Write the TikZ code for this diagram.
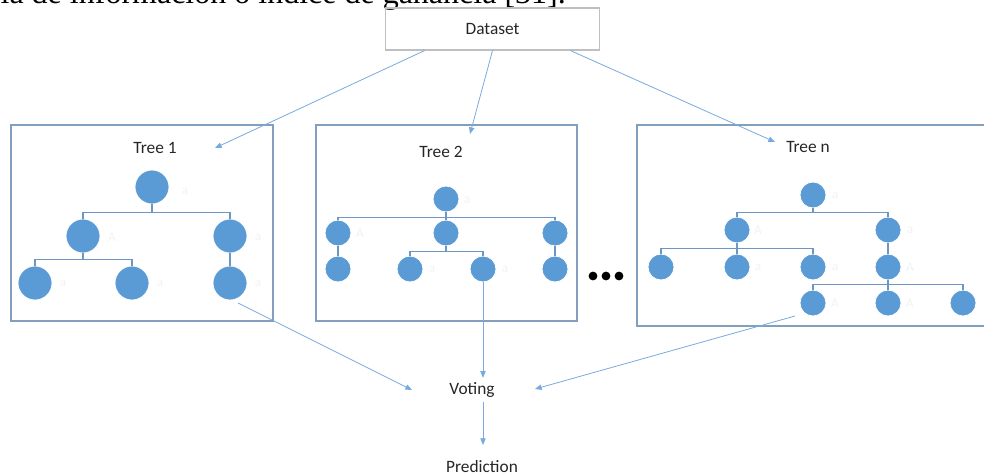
\documentclass[tikz,border=0pt]{standalone}
\usepackage{fontspec}
\setmainfont{Carlito}
\newfontfamily\serifdoc{Liberation Serif}
\usetikzlibrary{arrows.meta}
\definecolor{nodeblue}{RGB}{91,155,213}
\definecolor{boxblue}{RGB}{130,160,190}
\definecolor{arrblue}{RGB}{120,170,220}
\definecolor{edgeblue}{RGB}{110,150,195}
\tikzset{
  px/.style={x=0.75pt,y=-0.75pt},
  bignode/.style={circle,fill=nodeblue,draw=white,line width=0.6pt,minimum size=25.5pt,inner sep=0pt},
  smallnode/.style={circle,fill=nodeblue,draw=white,line width=0.6pt,minimum size=19.5pt,inner sep=0pt},
  treebox/.style={draw=boxblue,line width=1pt},
  lbl/.style={font=\fontsize{13}{15}\selectfont,text=black!85},
  faint/.style={font=\fontsize{10}{12}\selectfont,text=black!5},
  edge/.style={draw=edgeblue,line width=1pt},
  arr/.style={draw=arrblue,line width=0.6pt,-{Triangle[length=5pt,width=4pt]}},
}
\begin{document}
\begin{tikzpicture}[px]
\useasboundingbox (0,0) rectangle (984,475);
\clip (0,0) rectangle (984,475);
% cut-off document text
\node[anchor=base east,inner sep=0pt,font=\serifdoc\fontsize{24}{28}\selectfont] (doc) at (566,3) {ia de información o índice de ganancia [31].};
% Dataset
\node[draw=black!25,line width=0.8pt,minimum width=161pt,minimum height=31.5pt,lbl] (ds) at (492.5,29) {Dataset};
% boxes
\node[treebox,minimum width=196.5pt,minimum height=147pt,inner sep=0pt] (b1) at (142,223) {};
\node[treebox,minimum width=195.75pt,minimum height=147pt,inner sep=0pt] (b2) at (446.5,223) {};
\node[treebox,minimum width=270pt,minimum height=150.75pt,inner sep=0pt] (bn) at (817,225.5) {};
\node[lbl] (t1) at (155,148) {Tree 1};
\node[lbl] (t2) at (441,152) {Tree 2};
\node[lbl] (tn) at (808,147) {Tree n};
% Tree 1
\node[bignode] (a0) at (152,187) {};
\node[bignode] (a1) at (83,236) {};
\node[bignode] (a2) at (230,236) {};
\node[bignode] (a3) at (35,283) {};
\node[bignode] (a4) at (132,283) {};
\node[bignode] (a5) at (230,283) {};
\draw[edge] (a0.south) -- ++(0,8) -| (a1.north);
\draw[edge] (a0.south) -- ++(0,8) -| (a2.north);
\draw[edge] (a1.south) -- ++(0,6) -| (a3.north);
\draw[edge] (a1.south) -- ++(0,6) -| (a4.north);
\draw[edge] (a2.south) -- (a5.north);
\node[faint] (fa0) at (185,191) {a};
\node[faint] (fa1) at (112,237) {A};
\node[faint] (fa2) at (258,237) {a};
\node[faint] (fa3) at (63,283) {a};
\node[faint] (fa4) at (160,283) {a};
\node[faint] (fa5) at (258,283) {a};
% Tree 2
\node[smallnode] (c0) at (446,199) {};
\node[smallnode] (c1) at (338,233) {};
\node[smallnode] (c2) at (446,233) {};
\node[smallnode] (c3) at (555,233) {};
\node[smallnode] (c4) at (338,269) {};
\node[smallnode] (c5) at (410,269) {};
\node[smallnode] (c6) at (483,269) {};
\node[smallnode] (c7) at (555,269) {};
\draw[edge] (c0.south) -- (c2.north);
\draw[edge] (c0.south) -- ++(0,5) -| (c1.north);
\draw[edge] (c0.south) -- ++(0,5) -| (c3.north);
\draw[edge] (c1.south) -- (c4.north);
\draw[edge] (c3.south) -- (c7.north);
\draw[edge] (c2.south) -- ++(0,5) -| (c5.north);
\draw[edge] (c2.south) -- ++(0,5) -| (c6.north);
\node[faint] (fc0) at (467,200) {a};
\node[faint] (fc1) at (360,233) {A};
\node[faint] (fc5) at (432,269) {a};
\node[faint] (fc6) at (505,269) {a};
% dots
\fill (593,276) circle (3.3pt) (606,276) circle (3.3pt) (619,276) circle (3.3pt);
% Tree n
\node[smallnode] (d0) at (813,195) {};
\node[smallnode] (d1) at (737,230) {};
\node[smallnode] (d2) at (888,230) {};
\node[smallnode] (d3) at (661,267) {};
\node[smallnode] (d4) at (737,267) {};
\node[smallnode] (d5) at (813,267) {};
\node[smallnode] (d6) at (888,267) {};
\node[smallnode] (d7) at (813,303) {};
\node[smallnode] (d8) at (888,303) {};
\node[smallnode] (d9) at (963,303) {};
\draw[edge] (d0.south) -- ++(0,4) -| (d1.north);
\draw[edge] (d0.south) -- ++(0,4) -| (d2.north);
\draw[edge] (d1.south) -- ++(0,5) -| (d3.north);
\draw[edge] (d1.south) -- (d4.north);
\draw[edge] (d1.south) -- ++(0,5) -| (d5.north);
\draw[edge] (d2.south) -- (d6.north);
\draw[edge] (d6.south) -- ++(0,4) -| (d7.north);
\draw[edge] (d6.south) -- (d8.north);
\draw[edge] (d6.south) -- ++(0,4) -| (d9.north);
\node[faint] (fd0) at (835,195) {a};
\node[faint] (fd1) at (758,230) {A};
\node[faint] (fd2) at (910,230) {a};
\node[faint] (fd4) at (758,267) {a};
\node[faint] (fd5) at (835,267) {a};
\node[faint] (fd6) at (910,267) {A};
\node[faint] (fd7) at (835,303) {A};
\node[faint] (fd8) at (910,303) {A};
% Voting / Prediction
\node[lbl] (vote) at (472,390) {Voting};
\node[lbl,anchor=base,inner sep=1pt] (pred) at (482,472.5) {Prediction};
\coordinate (in1) at (215,148);
\coordinate (in2) at (470,134);
\coordinate (inn) at (775,142);
\coordinate (v1) at (412,390);
\coordinate (vn) at (535,389);
\coordinate (o1) at (238,303);
\coordinate (on) at (795,316);
\coordinate (pa) at (483,445);
\draw[arr] (ds.south west) ++(40,0) -- (in1);
\draw[arr] (ds.south) -- (in2);
\draw[arr] (ds.south east) ++(-30,0) -- (inn);
\draw[arr] (o1) -- (v1);
\draw[arr] (c6.south) -- (vote.north -| c6);
\draw[arr] (on) -- (vn);
\draw[arr] (vote.south -| c6) -- (pa);
\end{tikzpicture}
\end{document}
